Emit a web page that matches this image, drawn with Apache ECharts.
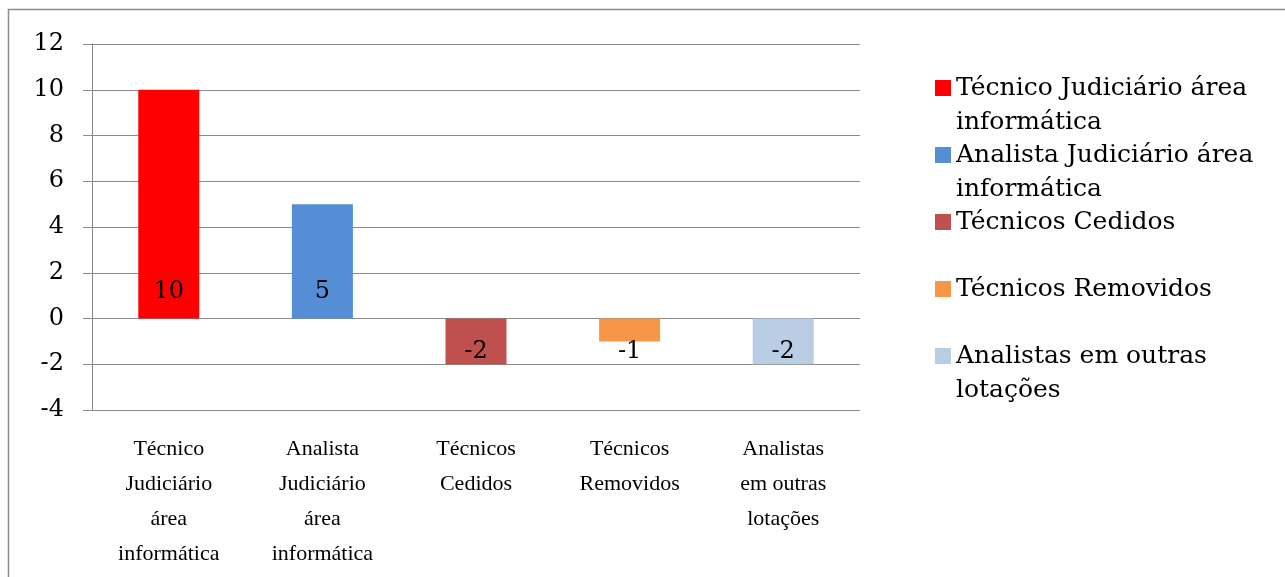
<!DOCTYPE html>
<html>
<head>
<meta charset="utf-8">
<script src="https://cdn.jsdelivr.net/npm/echarts@6/dist/echarts.min.js"></script>
<style>
  html, body { margin: 0; padding: 0; background: #fff; }
  #chart { width: 1285px; height: 577px; }
</style>
</head>
<body>
<div id="chart"></div>
<script>
// Staff balance per category
const categories = [
  'Técnico Judiciário área informática',
  'Analista Judiciário área informática',
  'Técnicos Cedidos',
  'Técnicos Removidos',
  'Analistas em outras lotações'
];
// Wrapped forms of the category names, as shown under the axis and in the legend
const axisLabels = [
  'Técnico\nJudiciário\nárea\ninformática',
  'Analista\nJudiciário\nárea\ninformática',
  'Técnicos\nCedidos',
  'Técnicos\nRemovidos',
  'Analistas\nem outras\nlotações'
];
const legendLabels = [
  'Técnico Judiciário área\ninformática',
  'Analista Judiciário área\ninformática',
  'Técnicos Cedidos',
  'Técnicos Removidos',
  'Analistas em outras\nlotações'
];
const values = [10, 5, -2, -1, -2];
const colors = ['#FF0000', '#558ED5', '#C0504D', '#F79646', '#B9CDE5'];
const yMin = -4, yMax = 12, yStep = 2;

const gridColor = '#8a8a8a';
const numberFont = 'DejaVu Serif';
const categoryFont = '"Liberation Serif", serif';

const series = categories.map((name, i) => ({
  name: name,
  type: 'bar',
  stack: 'total',
  barWidth: 61,
  itemStyle: { color: colors[i] },
  label: {
    show: true,
    position: values[i] >= 0 ? 'insideBottom' : 'insideTop',
    distance: values[i] >= 0 ? 15 : 21,
    fontFamily: numberFont,
    fontSize: 24,
    lineHeight: 24,
    color: '#000'
  },
  data: categories.map((_, j) => (j === i ? values[i] : '-'))
}));

// One legend block per series so wrapped names keep the swatch on the first line
const legendMarkerTops = [80, 147, 214, 281, 348];
const legends = categories.map((name, i) => {
  const twoLine = legendLabels[i].indexOf('\n') >= 0;
  return {
    data: [name],
    orient: 'vertical',
    left: 935,
    top: legendMarkerTops[i] - 9,
    padding: 0,
    itemGap: 0,
    itemWidth: 16,
    itemHeight: twoLine ? 50 : 16,
    icon: twoLine ? 'path://M0,0H16V16H0Z M0,50H16' : 'rect',
    selectedMode: false,
    formatter: () => legendLabels[i],
    textStyle: {
      fontFamily: numberFont,
      fontSize: 25,
      lineHeight: 34,
      color: '#000'
    }
  };
});

const chart = echarts.init(document.getElementById('chart'), null, { renderer: 'canvas' });
chart.setOption({
  animation: false,
  backgroundColor: '#fff',
  graphic: [{
    type: 'rect',
    shape: { x: 8.5, y: 9.5, width: 1300, height: 600 },
    style: { fill: 'none', stroke: '#8c8c8c', lineWidth: 1.5 },
    silent: true,
    z: 100
  }],
  grid: { left: 92, right: 425, top: 44, bottom: 167, outerBoundsMode: 'none', containLabel: false },
  legend: legends,
  xAxis: {
    type: 'category',
    data: categories,
    axisLine: { show: false },
    axisTick: { show: false },
    axisLabel: {
      interval: 0,
      margin: 22,
      fontFamily: categoryFont,
      fontSize: 22,
      lineHeight: 35,
      color: '#000',
      formatter: (value, idx) => axisLabels[idx]
    }
  },
  yAxis: {
    type: 'value',
    min: yMin,
    max: yMax,
    interval: yStep,
    axisLine: { show: true, lineStyle: { color: gridColor, width: 1 } },
    axisTick: { show: true, length: 9, lineStyle: { color: gridColor, width: 1 } },
    splitLine: { show: true, lineStyle: { color: gridColor, width: 1 } },
    axisLabel: {
      margin: 28,
      fontFamily: numberFont,
      fontSize: 24,
      color: '#000'
    }
  },
  series: series
});
</script>
</body>
</html>
